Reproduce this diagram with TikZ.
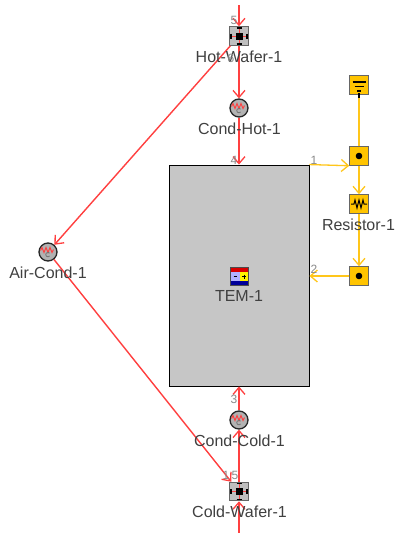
\documentclass[tikz,border=0pt]{standalone}
\usepackage{fontspec}
\setmainfont{Liberation Sans}
\usetikzlibrary{arrows.meta}
\definecolor{lab}{HTML}{404040}
\definecolor{num}{HTML}{8A8A8A}
\definecolor{wire}{HTML}{FF4040}
\definecolor{elec}{HTML}{FFC61A}
\definecolor{gold}{HTML}{FFC400}
\definecolor{panel}{HTML}{C6C6C6}
\tikzset{
  x=1pt,y=-1pt,
  lab/.style={text=lab,font=\fontsize{16}{17}\selectfont,inner sep=0pt},
  num/.style={text=num,font=\fontsize{12}{13}\selectfont,inner sep=0pt},
  redline/.style={draw=wire,line width=1.4pt,-{Straight Barb[length=7pt,width=12pt,line width=1.3pt]}},
  yelline/.style={draw=elec,line width=1.3pt,-{Straight Barb[length=7pt,width=12pt,line width=1.3pt]}},
  yelplain/.style={draw=elec,line width=1.3pt},
  cond/.style={circle,draw=black!85,line width=1.3pt,fill=black!30,minimum size=18pt,inner sep=0pt},
  wafer/.style={rectangle,draw=black!60,line width=1pt,fill=black!25,minimum size=18.5pt,inner sep=0pt},
  goldbox/.style={rectangle,draw=black!60,line width=1pt,fill=gold,minimum size=18.5pt,inner sep=0pt},
  tembox/.style={rectangle,draw=black,line width=.9pt,fill=panel,minimum width=140pt,minimum height=221pt,inner sep=0pt},
}
\newcommand{\condmark}[1]{%
  \draw[wire,line width=1pt] ([shift={(-7.5,-1.5)}]#1.center) -- ++(1.5,-3) -- ++(2,5) -- ++(2,-5) -- ++(2,5) -- ++(2,-5) -- ++(2,5) -- ++(1.5,-3);
  \draw[black!55,line width=.8pt] ([shift={(1.6,4)}]#1.center) arc (40:320:2.2);
}
\newcommand{\wafermark}[1]{%
  \draw[wire,line width=1pt] ([shift={(-8,0)}]#1.center) -- ++(16,0) ([shift={(0,-8)}]#1.center) -- ++(0,16);
  \fill[black] ([shift={(-3.5,-3.5)}]#1.center) rectangle ++(7,7);
  \draw[black,line width=1.2pt] ([shift={(-2.5,-8)}]#1.center) -- ++(5,0) ([shift={(-2.5,8)}]#1.center) -- ++(5,0) ([shift={(-8,-2.5)}]#1.center) -- ++(0,5) ([shift={(8,-2.5)}]#1.center) -- ++(0,5);
}
\newcommand{\dotmark}[1]{\fill[black] (#1.center) circle (3.3);}
\begin{document}
\begin{tikzpicture}
\useasboundingbox (0,0) rectangle (395,533);
\fill[white] (0,0) rectangle (395,533);
% nodes
\node[tembox] (tem) at (239,275.5) {};
\coordinate (hotin) at (239,5);
\coordinate (coldin) at (239,533);
\node[wafer] (hw) at (239,36) {};
\node[cond] (ch) at (239,108) {};
\node[cond] (cc) at (239,420) {};
\node[wafer] (cw) at (239,491.5) {};
\node[cond] (ac) at (48,252) {};
\node[goldbox] (gnd) at (359,85) {};
\node[goldbox] (n1) at (359,156) {};
\node[goldbox] (res) at (359,204) {};
\node[goldbox] (n2) at (359,276) {};
\node[rectangle,draw=black!70,line width=.8pt,minimum size=18.5pt,inner sep=0pt] (ticon) at (239.5,276.5) {};
% connectors
\draw[redline] (hotin) -- (hw.north);
\draw[redline] (hw.south) -- (ch.north);
\draw[redline] (ch.south) -- (tem.north);
\draw[redline] (hw) -- (ac);
\draw[redline] (ac) -- (cw);
\draw[redline] (cw.north) -- (cc.south);
\draw[redline] (cc.north) -- (tem.south);
\draw[redline] (coldin) -- (cw.south);
\draw[yelplain] (gnd) -- (n1);
\draw[yelline] (tem.north east) -- (n1.south west);
\draw[yelline] (n1.south) -- (res.north);
\draw[yelline] (res.south) -- (n2.north);
\draw[yelline] (n2.west) -- (tem.east |- n2.west);
% icon details
\condmark{ch}\condmark{cc}\condmark{ac}
\wafermark{hw}\wafermark{cw}
\dotmark{n1}\dotmark{n2}
\draw[black,line width=1.3pt] ([yshift=-8pt]gnd.center) -- ++(0,5) ([shift={(-6.5,-3)}]gnd.center) -- ++(13,0) ([shift={(-4.5,1.5)}]gnd.center) -- ++(9,0) ([shift={(-2,6)}]gnd.center) -- ++(4,0);
\draw[black,line width=1pt] ([xshift=-8pt]res.center) -- ++(3,0) -- ++(1,-4) -- ++(2,8) -- ++(2,-8) -- ++(2,8) -- ++(2,-8) -- ++(1,4) -- ++(3,0);
% TEM icon
\fill[red!85!black] ([shift={(-9,-9)}]ticon.center) rectangle ([shift={(9,-4.5)}]ticon.center);
\fill[blue!60!black] ([shift={(-9,4.5)}]ticon.center) rectangle ([shift={(9,9)}]ticon.center);
\fill[blue!30!white] ([shift={(-9,-4.5)}]ticon.center) rectangle ([shift={(0,4.5)}]ticon.center);
\fill[yellow] ([shift={(0,-4.5)}]ticon.center) rectangle ([shift={(9,4.5)}]ticon.center);
\draw[black,line width=.8pt] ([shift={(-6,0)}]ticon.center) -- ++(3.5,0) ([shift={(2.5,0)}]ticon.center) -- ++(4,0) ([shift={(4.5,-2)}]ticon.center) -- ++(0,4);
\draw[black!70,line width=.8pt] ([shift={(-9.2,-9.2)}]ticon.center) rectangle ([shift={(9.2,9.2)}]ticon.center);
% labels
\node[lab] (lhw) at (239,57) {Hot-Wafer-1};
\node[lab] (lch) at (239.5,129) {Cond-Hot-1};
\node[lab] (lres) at (358.5,225) {Resistor-1};
\node[lab] (ltem) at (239,296) {TEM-1};
\node[lab] (lac) at (48,273) {Air-Cond-1};
\node[lab] (lcc) at (239.5,441) {Cond-Cold-1};
\node[lab] (lcw) at (239.5,512) {Cold-Wafer-1};
\node[num] (p5) at (234,20) {5};
\node[num] (p6) at (231,58) {6};
\node[num] (p4) at (234,160) {4};
\node[num] (p1) at (314,160) {1};
\node[num] (p2) at (314,269) {2};
\node[num] (p3) at (234,399) {3};
\node[num] (p7) at (226,475) {1};
\node[num] (p8) at (235,475) {5};
\end{tikzpicture}
\end{document}
